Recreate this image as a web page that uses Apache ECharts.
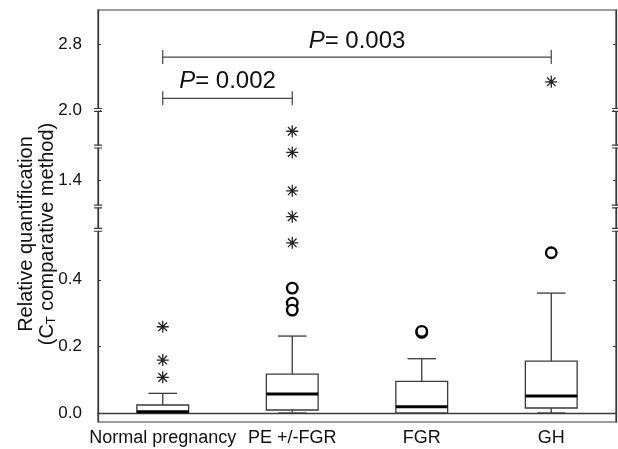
<!DOCTYPE html>
<html><head><meta charset="utf-8">
<script src="https://cdn.jsdelivr.net/npm/echarts@6/dist/echarts.min.js"></script>
<style>html,body{margin:0;padding:0;background:#fff}#c{width:618px;height:449px}</style>
</head><body><div id="c"></div>
<script>
// ---- data ----
const categories = ['Normal pregnancy', 'PE +/-FGR', 'FGR', 'GH'];
const whiskerLow = [0, 0, 0, 0];
const q1 = [0.001, 0.009, 0.0, 0.015];
const median = [0.004, 0.057, 0.019, 0.051];
const q3 = [0.024, 0.117, 0.095, 0.156];
const whiskerHigh = [0.059, 0.231, 0.163, 0.36];
const outlierCat = [1, 1, 1, 2, 2, 3];
const outlierVal = [0.375, 0.330, 0.309, 0.242, 0.245, 0.481];
const extremeCat = [0, 0, 0, 1, 1, 1, 1, 1, 3];
const extremeVal = [0.259, 0.159, 0.107, 0.511, 0.917, 1.318, 1.606, 1.796, 2.34];
const tickValues = [0, 0.2, 0.4, 1.4, 2.0, 2.8];
const breakMarks = [0.55, 1.2, 1.65, 2.0];
const bracketFrom = [0, 0];
const bracketTo = [1, 3];
const bracketLevel = [2.14, 2.64];
const bracketLabelLevel = [2.345, 2.83];
const pValues = ['0.002', '0.003'];
// broken-axis scale knots (real value -> display value)
const realKnots = [0, 0.55, 1.2, 1.65, 2.0, 3.21];
const dispKnots = [0, 0.55, 0.62, 0.80, 0.91, 1.21];

function interp(v, a, b) {
  if (v <= a[0]) return b[0] + (v - a[0]) * (b[1] - b[0]) / (a[1] - a[0]);
  for (let i = 1; i < a.length; i++) {
    if (v <= a[i]) return b[i - 1] + (v - a[i - 1]) * (b[i] - b[i - 1]) / (a[i] - a[i - 1]);
  }
  const n = a.length - 1;
  return b[n] + (v - a[n]) * (b[n] - b[n - 1]) / (a[n] - a[n - 1]);
}
const toDisp = v => interp(v, realKnots, dispKnots);
const fromDisp = d => interp(d, dispKnots, realKnots);

const FONT = '"Liberation Sans", Arial, sans-serif';
const LINE = '#3a3a3a';
const yMin = -0.027, yMax = 1.21;
const tickDisp = tickValues.map(toDisp);

const boxData = categories.map((c, i) => [i, toDisp(whiskerLow[i]), toDisp(q1[i]), toDisp(median[i]), toDisp(q3[i]), toDisp(whiskerHigh[i])]);
const outlierData = outlierCat.map((c, i) => [c, toDisp(outlierVal[i])]);
const extremeData = extremeCat.map((c, i) => [c, toDisp(extremeVal[i])]);
const breakData = [];
breakMarks.forEach(b => { breakData.push([0, toDisp(b)]); breakData.push([1, toDisp(b)]); });
const bracketData = bracketFrom.map((f, i) => [f, bracketTo[i], toDisp(bracketLevel[i]), toDisp(bracketLabelLevel[i]), i]);

const chart = echarts.init(document.getElementById('c'), null, {renderer: 'canvas'});
chart.setOption({
  animation: false,
  backgroundColor: '#fff',
  grid: {left: 98, right: 2, top: 10, bottom: 27, show: true, borderColor: LINE, borderWidth: 1.2, backgroundColor: 'transparent', containLabel: false, outerBoundsMode: 'none'},
  xAxis: [{
    type: 'category', data: categories, boundaryGap: true,
    axisLine: {lineStyle: {color: LINE, width: 1.3}},
    axisTick: {alignWithLabel: true, length: 3, lineStyle: {color: LINE}},
    axisLabel: {color: '#111', fontSize: 18, fontFamily: FONT, margin: 7, interval: 0},
    splitLine: {show: false}
  }, {
    type: 'value', min: 0, max: 1, show: false
  }],
  yAxis: [{
    type: 'value', min: yMin, max: yMax, position: 'left',
    name: '{a|Relative quantification}\n{a|(C}{s|T}{a| comparative method)}',
    nameLocation: 'middle', nameGap: 40, nameMoveOverlap: false,
    nameTextStyle: {
      color: '#111', fontFamily: FONT, fontSize: 20, padding: [0, 36, 0, 0],
      rich: {
        a: {fontSize: 20, fontFamily: FONT, color: '#111', lineHeight: 21},
        s: {fontSize: 13, fontFamily: FONT, color: '#111', lineHeight: 13, verticalAlign: 'bottom'}
      }
    },
    axisLine: {show: true, lineStyle: {color: LINE, width: 1.3}},
    axisTick: {show: true, inside: true, length: 3, customValues: tickDisp, lineStyle: {color: LINE}},
    axisLabel: {show: true, customValues: tickDisp, formatter: v => fromDisp(v).toFixed(1), color: '#111', fontSize: 17, fontFamily: FONT, margin: 16},
    splitLine: {show: false}
  }, {
    type: 'value', min: yMin, max: yMax, position: 'right',
    axisLine: {show: true, lineStyle: {color: LINE, width: 1.3}},
    axisTick: {show: true, inside: true, length: 3, customValues: tickDisp, lineStyle: {color: LINE}},
    axisLabel: {show: false},
    splitLine: {show: false}
  }],
  series: [
    {
      type: 'custom', xAxisIndex: 0, yAxisIndex: 0, data: boxData,
      encode: {x: 0, y: [1, 2, 3, 4, 5]},
      renderItem(params, api) {
        const i = api.value(0);
        const bw = api.size([1, 0])[0] * 0.4;
        const cap = bw * 0.55;
        const pLow = api.coord([i, api.value(1)]);
        const pQ1 = api.coord([i, api.value(2)]);
        const pMed = api.coord([i, api.value(3)]);
        const pQ3 = api.coord([i, api.value(4)]);
        const pHigh = api.coord([i, api.value(5)]);
        const x = pMed[0];
        const ls = {stroke: LINE, lineWidth: 1.3, fill: null};
        return {type: 'group', children: [
          {type: 'line', shape: {x1: x, y1: pQ3[1], x2: x, y2: pHigh[1]}, style: ls},
          {type: 'line', shape: {x1: x, y1: pQ1[1], x2: x, y2: pLow[1]}, style: ls},
          {type: 'line', shape: {x1: x - cap / 2, y1: pHigh[1], x2: x + cap / 2, y2: pHigh[1]}, style: ls},
          {type: 'line', shape: {x1: x - cap / 2, y1: pLow[1], x2: x + cap / 2, y2: pLow[1]}, style: ls},
          {type: 'rect', shape: {x: x - bw / 2, y: pQ3[1], width: bw, height: pQ1[1] - pQ3[1]}, style: {stroke: LINE, lineWidth: 1.3, fill: '#fff'}},
          {type: 'line', shape: {x1: x - bw / 2, y1: pMed[1], x2: x + bw / 2, y2: pMed[1]}, style: {stroke: '#000', lineWidth: 3}}
        ]};
      }
    },
    {
      type: 'scatter', xAxisIndex: 0, yAxisIndex: 0, data: outlierData,
      symbol: 'circle', symbolSize: 10.5,
      itemStyle: {color: '#fff', borderColor: '#000', borderWidth: 2.4, opacity: 1}
    },
    {
      type: 'scatter', xAxisIndex: 0, yAxisIndex: 0, data: extremeData,
      symbol: 'path://M0,-6L0,6M-6,0L6,0M-4.3,-4.3L4.3,4.3M-4.3,4.3L4.3,-4.3',
      symbolSize: 12,
      itemStyle: {color: 'none', borderColor: '#222', borderWidth: 1.3, opacity: 1}
    },
    {
      type: 'scatter', xAxisIndex: 1, yAxisIndex: 0, data: breakData,
      symbol: 'rect', symbolSize: [4, 2], silent: true,
      itemStyle: {color: '#fff', opacity: 1}
    },
    {
      type: 'scatter', xAxisIndex: 1, yAxisIndex: 0, data: breakData,
      symbol: 'path://M0,0H10V1.2H0ZM0,3H10V4.2H0Z', symbolSize: [8, 4], silent: true,
      itemStyle: {color: LINE, opacity: 1}
    },
    {
      type: 'custom', xAxisIndex: 0, yAxisIndex: 0, data: bracketData, clip: false,
      encode: {x: [0, 1], y: [2, 3]},
      renderItem(params, api) {
        const p1 = api.coord([api.value(0), api.value(2)]);
        const p2 = api.coord([api.value(1), api.value(2)]);
        const pt = api.coord([api.value(0), api.value(3)]);
        const label = pValues[api.value(4)];
        const ls = {stroke: '#444', lineWidth: 1.2, fill: null};
        const t = 7;
        return {type: 'group', children: [
          {type: 'line', shape: {x1: p1[0], y1: p1[1], x2: p2[0], y2: p2[1]}, style: ls},
          {type: 'line', shape: {x1: p1[0], y1: p1[1] - t, x2: p1[0], y2: p1[1] + t}, style: ls},
          {type: 'line', shape: {x1: p2[0], y1: p2[1] - t, x2: p2[0], y2: p2[1] + t}, style: ls},
          {type: 'text', style: {
            text: '{i|P}= ' + label, x: (p1[0] + p2[0]) / 2, y: pt[1],
            align: 'center', verticalAlign: 'middle',
            fontSize: 24, fontFamily: FONT, fill: '#111',
            rich: {i: {fontStyle: 'italic', fontSize: 24, fontFamily: FONT, fill: '#111'}}
          }}
        ]};
      }
    }
  ]
});
</script>
</body></html>
